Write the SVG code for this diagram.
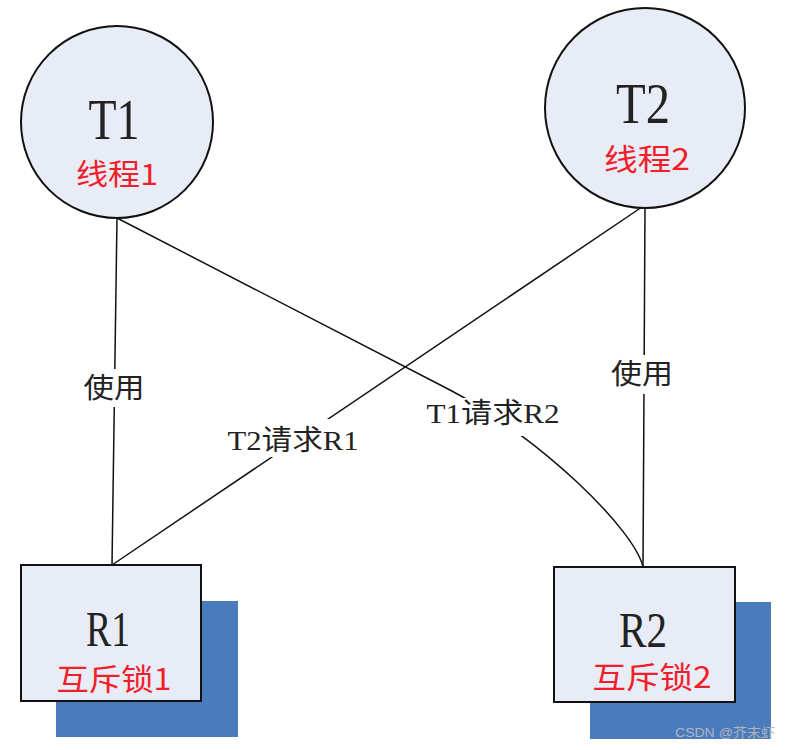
<svg xmlns="http://www.w3.org/2000/svg" width="791" height="750" viewBox="0 0 791 750">
<style>
.node{fill:#e8ecf7;stroke:#111;stroke-width:2}
.shadow{fill:#4a7bbd}
.big{font-family:"Liberation Serif","Noto Sans CJK SC",serif;fill:#222;text-anchor:middle}
.red{font-family:"Noto Sans CJK SC","Liberation Sans",sans-serif;fill:#f0202a;text-anchor:middle}
.lbl{font-family:"Liberation Serif","Noto Sans CJK SC",serif;fill:#222;font-size:28px;text-anchor:middle}
.conn{fill:none;stroke:#111;stroke-width:1.5}
.bg{fill:#fff}
</style>
<rect width="791" height="750" fill="#fff"/>
<g id="connectors">
<line class="conn" x1="117" y1="218" x2="112" y2="565"/>
<line class="conn" x1="642" y1="207" x2="112" y2="565"/>
<path class="conn" d="M117,218 L450,390 C540,437 635,530 643,567"/>
<line class="conn" x1="645" y1="207" x2="643" y2="567"/>
<rect class="bg" x="80" y="369" width="68" height="38"/>
<text class="lbl" x="114" y="398" font-size="31" textLength="61" lengthAdjust="spacingAndGlyphs">使用</text>
<rect class="bg" x="608" y="355" width="70" height="39"/>
<text class="lbl" x="642" y="384" font-size="31" textLength="62" lengthAdjust="spacingAndGlyphs">使用</text>
<rect class="bg" x="224" y="419" width="140" height="38"/>
<text class="lbl" x="293" y="450" textLength="131" lengthAdjust="spacingAndGlyphs">T2请求R1</text>
<rect class="bg" x="422" y="398" width="144" height="38"/>
<text class="lbl" x="493" y="423" textLength="133" lengthAdjust="spacingAndGlyphs">T1请求R2</text>
</g>
<g id="T1">
<circle class="node" cx="117" cy="122" r="96"/>
<text class="big" x="114" y="139" font-size="56" textLength="51" lengthAdjust="spacingAndGlyphs">T1</text>
<text class="red" x="117" y="185" font-size="29" textLength="82" lengthAdjust="spacingAndGlyphs">线程1</text>
</g>
<g id="T2">
<circle class="node" cx="645" cy="108" r="100"/>
<text class="big" x="643" y="123" font-size="56" textLength="54" lengthAdjust="spacingAndGlyphs">T2</text>
<text class="red" x="647" y="170" font-size="30" textLength="86" lengthAdjust="spacingAndGlyphs">线程2</text>
</g>
<g id="R1">
<rect class="shadow" x="56" y="601" width="182" height="136"/>
<rect class="node" x="21" y="565" width="180" height="136"/>
<text class="big" x="108" y="646" font-size="50" textLength="44" lengthAdjust="spacingAndGlyphs">R1</text>
<text class="red" x="114" y="690" font-size="30" textLength="115" lengthAdjust="spacingAndGlyphs">互斥锁1</text>
</g>
<g id="R2">
<rect class="shadow" x="590" y="602" width="181" height="137"/>
<rect class="node" x="554" y="567" width="181" height="135"/>
<text class="big" x="643" y="647" font-size="50" textLength="48" lengthAdjust="spacingAndGlyphs">R2</text>
<text class="red" x="652" y="688" font-size="30" textLength="119" lengthAdjust="spacingAndGlyphs">互斥锁2</text>
</g>
<text x="725" y="737" font-family="Liberation Sans,'Noto Sans CJK SC',sans-serif" font-size="13" fill="#b0b4bc" text-anchor="middle" textLength="100" lengthAdjust="spacingAndGlyphs">CSDN @芥末虾</text>
</svg>
